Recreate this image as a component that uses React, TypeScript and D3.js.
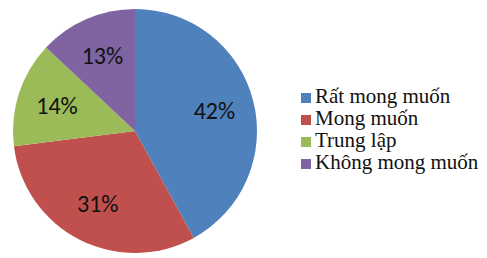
import * as d3 from "d3";
import React, { useEffect, useRef } from "react";

const categories = ["Rất mong muốn", "Mong muốn", "Trung lập", "Không mong muốn"];
const values = [42, 31, 14, 13];
const colors = ["#4F81BD", "#C0504D", "#9BBB59", "#8064A2"];

const width = 487;
const height = 258;

export default function App() {
  const ref = useRef<SVGSVGElement>(null);

  useEffect(() => {
    const svg = d3.select(ref.current);
    svg.selectAll("*").remove();

    const cx = 135;
    const cy = 131;
    const radius = 122;
    const labelRadius = 82;

    const pie = d3
      .pie<number>()
      .sort(null)
      .value((d) => d);
    const arcs = pie(values);

    const arc = d3.arc<d3.PieArcDatum<number>>().innerRadius(0).outerRadius(radius);
    const labelArc = d3
      .arc<d3.PieArcDatum<number>>()
      .innerRadius(labelRadius)
      .outerRadius(labelRadius);

    const g = svg.append("g").attr("transform", `translate(${cx},${cy})`);

    g.selectAll("path")
      .data(arcs)
      .join("path")
      .attr("d", arc)
      .attr("fill", (_, i) => colors[i]);

    g.selectAll("text")
      .data(arcs)
      .join("text")
      .attr("transform", (d) => {
        const [x, y] = labelArc.centroid(d);
        return `translate(${x},${y})`;
      })
      .attr("text-anchor", "middle")
      .attr("dy", "0.35em")
      .style("font-family", "Carlito, 'Liberation Sans', Arial, sans-serif")
      .style("font-size", "24px")
      .attr("fill", "#111")
      .text((d) => `${d.data}%`);

    const legend = svg.append("g").attr("transform", "translate(301,103)");
    const items = legend
      .selectAll("g")
      .data(categories)
      .join("g")
      .attr("transform", (_, i) => `translate(0,${i * 22})`);

    items
      .append("rect")
      .attr("x", 0)
      .attr("y", -10)
      .attr("width", 10)
      .attr("height", 10)
      .attr("fill", (_, i) => colors[i]);

    items
      .append("text")
      .attr("x", 14)
      .attr("y", 0)
      .style(
        "font-family",
        "'Times New Roman', Tinos, 'Liberation Serif', 'Noto Serif', 'DejaVu Serif', FreeSerif, serif",
      )
      .style("font-size", "21px")
      .attr("fill", "#111")
      .text((d) => d);
  }, []);

  return (
    <svg
      ref={ref}
      width={width}
      height={height}
      viewBox={`0 0 ${width} ${height}`}
      style={{ position: "absolute", left: 0, top: 0, background: "#fff" }}
    />
  );
}
